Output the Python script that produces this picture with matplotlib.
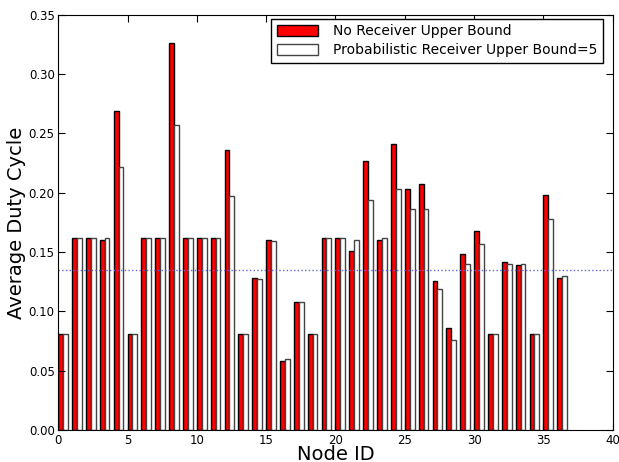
import matplotlib.pyplot as plt
import numpy as np

node_ids = np.arange(37)
no_bound = [0.081, 0.162, 0.162, 0.160, 0.269, 0.081, 0.162, 0.162, 0.326, 0.162,
            0.162, 0.162, 0.236, 0.081, 0.128, 0.160, 0.058, 0.108, 0.081, 0.162,
            0.162, 0.151, 0.227, 0.160, 0.241, 0.203, 0.207, 0.126, 0.086, 0.148,
            0.168, 0.081, 0.142, 0.139, 0.081, 0.198, 0.128]
prob_bound = [0.081, 0.162, 0.162, 0.162, 0.222, 0.081, 0.162, 0.162, 0.257, 0.162,
              0.162, 0.162, 0.197, 0.081, 0.127, 0.159, 0.060, 0.108, 0.081, 0.162,
              0.162, 0.160, 0.194, 0.162, 0.203, 0.186, 0.186, 0.119, 0.076, 0.140,
              0.157, 0.081, 0.140, 0.140, 0.081, 0.178, 0.130]
mean_line = 0.135

fig = plt.figure(figsize=(6.19, 4.62), dpi=100)
ax = fig.add_axes([0.094, 0.069, 0.896, 0.899])

w = 0.35
ax.bar(node_ids, no_bound, w, align='edge', color='red', edgecolor='black',
       linewidth=1, label='No Receiver Upper Bound')
ax.bar(node_ids + w, prob_bound, w, align='edge', color='white', edgecolor='#444444',
       linewidth=1, label='Probabilistic Receiver Upper Bound=5')
ax.plot([0, 40], [mean_line, mean_line], ':', color='#6666dd', linewidth=1)

ax.set_xlim(0, 40)
ax.set_ylim(0, 0.35)
ax.set_xticks(range(0, 41, 5))
ax.set_yticks(np.arange(0, 0.351, 0.05))
ax.set_yticklabels(['%.2f' % v for v in np.arange(0, 0.351, 0.05)])
ax.tick_params(direction='in', top=True, right=True, labelsize=8.5, length=5, pad=2.5)
ax.set_xlabel('Node ID', fontsize=14, labelpad=-1)
ax.set_ylabel('Average Duty Cycle', fontsize=14, labelpad=2)

leg = ax.legend(loc='upper right', fontsize=10, fancybox=False, framealpha=1,
                edgecolor='black', bbox_to_anchor=(0.983, 0.99), borderaxespad=0,
                handlelength=3.0, handleheight=0.9, borderpad=0.4,
                labelspacing=0.35, handletextpad=1.1)
leg.get_frame().set_linewidth(1)

plt.savefig('out.png')
